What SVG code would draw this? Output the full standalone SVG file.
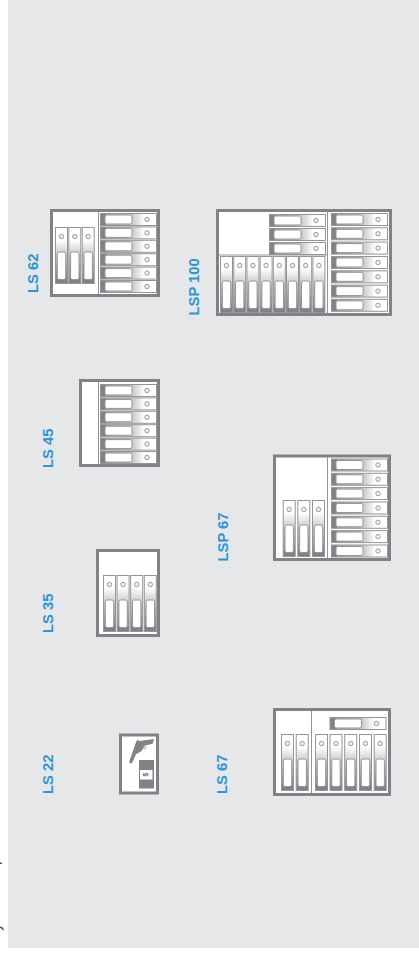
<svg xmlns="http://www.w3.org/2000/svg" xmlns:xlink="http://www.w3.org/1999/xlink" width="419" height="962" viewBox="0 0 419 962">
<style>
.frame{fill:#fff;stroke:#808285;stroke-width:3}
.div{stroke:#939598;stroke-width:1;fill:none}
.lab{font-family:"Liberation Sans",Arial,sans-serif;font-weight:700;font-size:14.8px;fill:#2b96d6}
.hd{fill:#fff;stroke:#939598;stroke-width:1}
.led{fill:#f1f2f2;stroke:#808285;stroke-width:.8}
</style>
<defs>
<linearGradient id="gh" x1="0" x2="1" y1="0" y2="0"><stop offset="0" stop-color="#808285"/><stop offset=".08" stop-color="#808285"/><stop offset=".12" stop-color="#a7a9ac"/><stop offset=".56" stop-color="#c7c8ca"/><stop offset=".78" stop-color="#fff"/><stop offset="1" stop-color="#fff"/></linearGradient>
<linearGradient id="gv" x1="0" x2="0" y1="0" y2="1"><stop offset="0" stop-color="#fff"/><stop offset=".22" stop-color="#fff"/><stop offset=".44" stop-color="#d1d3d4"/><stop offset=".7" stop-color="#a7a9ac"/><stop offset=".93" stop-color="#808285"/><stop offset="1" stop-color="#808285"/></linearGradient>
<g id="hb"><rect x=".5" y=".5" width="56" height="12" fill="url(#gh)" stroke="#939598"/><rect x="5" y="2" width="27" height="9" rx="1.800" class="hd"/><circle cx="47" cy="6.500" r="2.200" class="led"/></g>
<g id="vb"><rect x=".5" y=".5" width="12" height="56" fill="url(#gv)" stroke="#939598"/><rect x="2.300" y="25" width="8.400" height="27.500" rx="1.800" class="hd"/><circle cx="6.500" cy="9.500" r="2.200" class="led"/></g>
</defs>
<rect id="page" width="419" height="962" fill="#fff"/>
<rect id="panel" x="8" width="411" height="948" fill="#e6e7e8"/>
<path id="edge-marks" d="M0 862.500h2v1.500h-2zM0 926.500c2 0 3.500 1 4 3.500l-1.200 .5c-.5-1.500-1.500-2.500-2.800-2.500z" fill="#58595b"/>

<g id="ls62">
<rect class="frame" x="51.500" y="210.500" width="107" height="85"/>
<path class="div" d="M98.500 212v82"/>
<use href="#vb" x="55" y="227"/><use href="#vb" x="68.300" y="227"/><use href="#vb" x="81.700" y="227"/>
<use href="#hb" x="100" y="213"/><use href="#hb" x="100" y="226.400"/><use href="#hb" x="100" y="239.800"/><use href="#hb" x="100" y="253.200"/><use href="#hb" x="100" y="266.600"/><use href="#hb" x="100" y="280"/>
<text class="lab" transform="translate(37.500 293) rotate(-90)">LS 62</text>
</g>

<g id="lsp100">
<rect class="frame" x="217.500" y="210.500" width="173" height="104"/>
<path class="div" d="M327.500 212v101M219 255h108"/>
<use href="#hb" x="269" y="214"/><use href="#hb" x="269" y="228"/><use href="#hb" x="269" y="242"/>
<use href="#hb" x="331" y="213"/><use href="#hb" x="331" y="227.300"/><use href="#hb" x="331" y="241.600"/><use href="#hb" x="331" y="256"/><use href="#hb" x="331" y="270.300"/><use href="#hb" x="331" y="284.600"/><use href="#hb" x="331" y="298.800"/>
<use href="#vb" x="220" y="256"/><use href="#vb" x="233.200" y="256"/><use href="#vb" x="246.400" y="256"/><use href="#vb" x="259.600" y="256"/><use href="#vb" x="272.800" y="256"/><use href="#vb" x="286" y="256"/><use href="#vb" x="299.200" y="256"/><use href="#vb" x="312.400" y="256"/>
<text class="lab" transform="translate(199.300 315.500) rotate(-90)">LSP 100</text>
</g>

<g id="ls45">
<rect class="frame" x="80.500" y="380.500" width="78" height="85"/>
<path class="div" d="M98.500 382v82"/>
<use href="#hb" x="100" y="384"/><use href="#hb" x="100" y="397.400"/><use href="#hb" x="100" y="410.800"/><use href="#hb" x="100" y="424.200"/><use href="#hb" x="100" y="437.600"/><use href="#hb" x="100" y="451"/>
<text class="lab" transform="translate(53.300 468) rotate(-90)">LS 45</text>
</g>

<g id="ls35">
<rect class="frame" x="97.500" y="550.500" width="61" height="85"/>
<use href="#vb" x="103" y="575"/><use href="#vb" x="116.600" y="575"/><use href="#vb" x="130.200" y="575"/><use href="#vb" x="143.800" y="575"/>
<text class="lab" transform="translate(53.300 633) rotate(-90)">LS 35</text>
</g>

<g id="ls22">
<rect class="frame" x="120.500" y="735" width="37" height="58"/>
<path d="M154 739L146.700 740L139.300 741L137.300 739.700L136 742.300L133.300 750L129 762.300L131.700 763.700L136 754.300L141.700 751L144 745.700L152.700 743.700z" fill="#808285"/>
<circle cx="144.500" cy="747.500" r="1.300" fill="#fff" stroke="#808285" stroke-width=".8"/>
<rect x="139" y="760" width="15" height="28.500" fill="#808285"/>
<rect x="140" y="770" width="12.500" height="9.500" fill="#fff"/>
<text transform="translate(148 774.700) rotate(-90)" text-anchor="middle" font-family="Liberation Sans,Arial,sans-serif" font-weight="700" font-size="6.500" fill="#58595b">$</text>
<text class="lab" transform="translate(52.700 794) rotate(-90)">LS 22</text>
</g>

<g id="ls67">
<rect class="frame" x="274.500" y="709.500" width="115" height="85"/>
<path class="div" d="M311.500 711v82"/>
<use href="#hb" x="329.500" y="717"/>
<use href="#vb" x="281" y="734"/><use href="#vb" x="295.700" y="734"/><use href="#vb" x="315" y="734"/><use href="#vb" x="329.500" y="734"/><use href="#vb" x="344.200" y="734"/><use href="#vb" x="359" y="734"/><use href="#vb" x="373.700" y="734"/>
<text class="lab" transform="translate(226.700 794) rotate(-90)">LS 67</text>
</g>

<g id="lsp67">
<rect class="frame" x="274.500" y="456" width="115" height="103.500"/>
<path class="div" d="M327.500 457v101"/>
<use href="#hb" x="331" y="458.500"/><use href="#hb" x="331" y="472.800"/><use href="#hb" x="331" y="487.100"/><use href="#hb" x="331" y="501.500"/><use href="#hb" x="331" y="515.800"/><use href="#hb" x="331" y="530.100"/><use href="#hb" x="331" y="544.500"/>
<use href="#vb" x="282.700" y="500"/><use href="#vb" x="297.300" y="500"/><use href="#vb" x="312" y="500"/>
<text class="lab" transform="translate(227.700 561.500) rotate(-90)">LSP 67</text>
</g>
</svg>
